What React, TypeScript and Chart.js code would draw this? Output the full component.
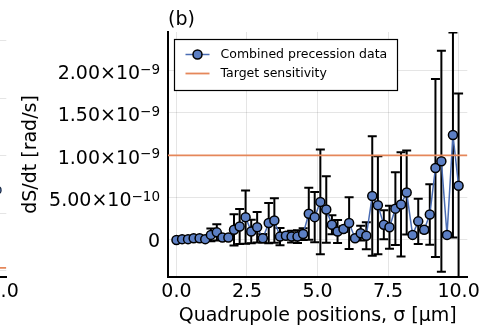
import React, { useEffect, useRef } from "react";
import { Chart, registerables } from "chart.js";

Chart.register(...registerables);

const FONT = "'DejaVu Sans', sans-serif";

// ---------- panel (b) data ----------
// Quadrupole positions σ [μm]
const positions = [
  0.0, 0.2, 0.41, 0.61, 0.82, 1.02, 1.22, 1.43, 1.63, 1.84,
  2.04, 2.24, 2.45, 2.65, 2.86, 3.06, 3.27, 3.47, 3.67, 3.88,
  4.08, 4.29, 4.49, 4.69, 4.9, 5.1, 5.31, 5.51, 5.71, 5.92,
  6.12, 6.33, 6.53, 6.73, 6.94, 7.14, 7.35, 7.55, 7.76, 7.96,
  8.16, 8.37, 8.57, 8.78, 8.98, 9.18, 9.39, 9.59, 9.8, 10.0,
];

// Combined precession data, dS/dt in units of 1e-10 rad/s
const dSdt = [
  0.0, 0.1, 0.1, 0.2, 0.2, 0.1, 0.6, 0.9, 0.3, 0.3,
  1.2, 1.6, 2.7, 1.0, 1.5, 0.2, 2.0, 2.3, 0.4, 0.5,
  0.4, 0.4, 0.7, 3.1, 2.7, 4.5, 3.6, 1.8, 1.0, 1.3,
  2.0, 0.2, 0.8, 0.5, 5.2, 4.1, 1.8, 1.5, 3.7, 4.2,
  5.6, 0.6, 2.2, 1.2, 3.0, 8.5, 9.3, 0.6, 12.4, 6.4,
];

// symmetric 1σ errors, units of 1e-10 rad/s
const dSdtErr = [
  0.05, 0.08, 0.08, 0.1, 0.1, 0.1, 0.75, 0.97, 0.2, 0.2,
  1.85, 2.06, 3.15, 1.39, 1.8, 0.5, 2.38, 2.62, 1.03, 0.36,
  0.7, 0.75, 0.7, 3.06, 2.98, 6.19, 3.93, 1.11, 1.35, 0.32,
  3.06, 0.2, 0.87, 1.59, 7.06, 5.79, 1.71, 2.54, 4.29, 6.15,
  4.96, 0.25, 2.66, 0.32, 3.57, 10.5, 13.05, 0.25, 12.1, 10.9,
];

const UNIT = 1e-10;
const targetSensitivity = 1e-9;

const xRange = [-0.3, 10.31];
const yRange = [-0.437e-9, 2.456e-9];

const xTicks = [0, 2.5, 5, 7.5, 10];
const xTickLabels = ["0.0", "2.5", "5.0", "7.5", "10.0"];
const yTicks = [0, 5e-10, 1e-9, 1.5e-9, 2e-9];
const yTickMantissas = ["0", "5.00×10", "1.00×10", "1.50×10", "2.00×10"];
const yTickExponents = ["", "−10", "−9", "−9", "−9"];

const seriesLabels = ["Combined precession data", "Target sensitivity"];
const panelTitle = "(b)";
const xTitle = "Quadrupole positions, σ [μm]";
const yTitle = "dS/dt [rad/s]";

// ---------- panel (a): only its right edge is visible ----------
const panelAPositions = [9.8, 10.0];
const panelAValues = [2.25, 1.4];
const panelATarget = 0.05;
const panelAYRange = [-0.11, 4.15];
const panelAYTicks = [0, 1, 2, 3, 4];

const BLUE_LINE = "#4a6cb3";
const BLUE_FILL = "#5c7fc4";
const ORANGE = "#e5875a";

const errorBarPlugin = {
  id: "errorBars",
  beforeDatasetsDraw(chart: any) {
    const { ctx, chartArea, scales } = chart;
    ctx.save();
    ctx.beginPath();
    ctx.rect(chartArea.left, chartArea.top, chartArea.right - chartArea.left, chartArea.bottom - chartArea.top);
    ctx.clip();
    ctx.strokeStyle = "#000";
    ctx.lineWidth = 2;
    positions.forEach((x, i) => {
      const px = scales.x.getPixelForValue(x);
      const hi = scales.y.getPixelForValue((dSdt[i] + dSdtErr[i]) * UNIT);
      const lo = scales.y.getPixelForValue((dSdt[i] - dSdtErr[i]) * UNIT);
      ctx.beginPath();
      ctx.moveTo(px, hi);
      ctx.lineTo(px, lo);
      ctx.moveTo(px - 4.5, hi);
      ctx.lineTo(px + 4.5, hi);
      ctx.moveTo(px - 4.5, lo);
      ctx.lineTo(px + 4.5, lo);
      ctx.stroke();
    });
    ctx.restore();
  },
};

const decorPlugin = {
  id: "decor",
  afterDraw(chart: any) {
    const { ctx, scales, chartArea } = chart;
    ctx.save();
    // y tick labels with superscript exponents
    const rightEdge = chartArea.left - 8;
    yTicks.forEach((v, i) => {
      const py = scales.y.getPixelForValue(v);
      const mant = yTickMantissas[i];
      const exp = yTickExponents[i];
      ctx.fillStyle = "#000";
      ctx.textBaseline = "alphabetic";
      ctx.textAlign = "left";
      ctx.font = `19px ${FONT}`;
      const mw = ctx.measureText(mant).width;
      ctx.font = `13.5px ${FONT}`;
      const ew = exp ? ctx.measureText(exp).width : 0;
      const base = py + (exp ? 8.4 : 6.9);
      ctx.font = `19px ${FONT}`;
      ctx.fillText(mant, rightEdge - mw - ew, base);
      if (exp) {
        ctx.font = `13.5px ${FONT}`;
        ctx.fillText(exp, rightEdge - ew, base - 5.5);
      }
    });

    // panel title
    ctx.font = `19px ${FONT}`;
    ctx.fillStyle = "#000";
    ctx.textAlign = "left";
    ctx.textBaseline = "alphabetic";
    ctx.fillText(panelTitle, chartArea.left, 24.5);

    // legend
    const bx = chartArea.left + 6.5;
    const by = 39.5;
    ctx.fillStyle = "#fff";
    ctx.fillRect(bx, by, 223, 51);
    ctx.strokeStyle = "#000";
    ctx.lineWidth = 1.2;
    ctx.strokeRect(bx, by, 223, 51);
    const rows = [54.5, 73.5];
    const colors = [BLUE_LINE, ORANGE];
    rows.forEach((ry, i) => {
      ctx.strokeStyle = colors[i];
      ctx.lineWidth = i === 0 ? 1.5 : 1.8;
      ctx.beginPath();
      ctx.moveTo(bx + 11, ry);
      ctx.lineTo(bx + 35, ry);
      ctx.stroke();
      if (i === 0) {
        ctx.beginPath();
        ctx.arc(bx + 23, ry, 4.5, 0, Math.PI * 2);
        ctx.fillStyle = BLUE_FILL;
        ctx.fill();
        ctx.strokeStyle = "#000";
        ctx.lineWidth = 1.5;
        ctx.stroke();
      }
      ctx.fillStyle = "#000";
      ctx.font = `12.5px ${FONT}`;
      ctx.textBaseline = "middle";
      ctx.fillText(seriesLabels[i], bx + 46, ry);
    });
    ctx.restore();
  },
};

function xScale() {
  return {
    type: "linear",
    min: xRange[0],
    max: xRange[1],
    afterFit: (s: any) => {
      s.height = 54;
    },
    afterBuildTicks: (s: any) => {
      s.ticks = xTicks.map((v) => ({ value: v }));
    },
    ticks: {
      autoSkip: false,
      maxRotation: 0,
      padding: 4,
      color: "#000",
      font: { family: FONT, size: 19 },
      callback: (v: any) => {
        const idx = xTicks.indexOf(Number(v));
        return idx >= 0 ? xTickLabels[idx] : "";
      },
    },
    grid: { color: "rgba(0,0,0,0.1)", lineWidth: 1, drawTicks: false },
    border: { display: true, color: "#000", width: 2 },
    title: {
      display: true,
      text: xTitle,
      color: "#000",
      font: { family: FONT, size: 19 },
      padding: { top: 0, bottom: 3.6 },
    },
  };
}

function yScale(range: number[], ticks: number[]) {
  return {
    type: "linear",
    min: range[0],
    max: range[1],
    afterFit: (s: any) => {
      s.width = 168;
    },
    afterBuildTicks: (s: any) => {
      s.ticks = ticks.map((v) => ({ value: v }));
    },
    ticks: { display: false },
    grid: { color: "rgba(0,0,0,0.1)", lineWidth: 1, drawTicks: false },
    border: { display: true, color: "#000", width: 2 },
    title: {
      display: true,
      text: yTitle,
      color: "#000",
      font: { family: FONT, size: 19 },
      padding: { top: 19.6, bottom: 0 },
    },
  };
}

const baseOptions = (yRangeArg: number[], yTicksArg: number[]) => ({
  responsive: false,
  animation: false,
  events: [],
  layout: { padding: { top: 32, right: 9, left: 0, bottom: 0 } },
  plugins: {
    legend: { display: false },
    tooltip: { enabled: false },
    title: { display: false },
  },
  scales: { x: xScale(), y: yScale(yRangeArg, yTicksArg) },
});

export default function App() {
  const refB = useRef<HTMLCanvasElement>(null);
  const refA = useRef<HTMLCanvasElement>(null);
  useEffect(() => {
    if (!refB.current || !refA.current) return;
    const chartB = new Chart(refB.current, {
      type: "line",
      data: {
        datasets: [
          {
            label: seriesLabels[0],
            data: positions.map((x, i) => ({ x, y: dSdt[i] * UNIT })),
            borderColor: BLUE_LINE,
            borderWidth: 1.5,
            pointRadius: 4.5,
            pointBackgroundColor: BLUE_FILL,
            pointBorderColor: "#000",
            pointBorderWidth: 1.5,
            tension: 0,
            order: 1,
          },
          {
            label: seriesLabels[1],
            data: [
              { x: xRange[0], y: targetSensitivity },
              { x: xRange[1], y: targetSensitivity },
            ],
            borderColor: ORANGE,
            borderWidth: 1.8,
            pointRadius: 0,
            order: 0,
          },
        ],
      },
      options: baseOptions(yRange, yTicks) as any,
      plugins: [errorBarPlugin, decorPlugin],
    });
    const chartA = new Chart(refA.current, {
      type: "line",
      data: {
        datasets: [
          {
            label: seriesLabels[0],
            data: panelAPositions.map((x, i) => ({ x, y: panelAValues[i] })),
            borderColor: BLUE_LINE,
            borderWidth: 1.5,
            pointRadius: 3.5,
            pointBackgroundColor: BLUE_FILL,
            pointBorderColor: "#1a2a44",
            pointBorderWidth: 1.2,
            showLine: false,
            order: 1,
          },
          {
            label: seriesLabels[1],
            data: [
              { x: xRange[0], y: panelATarget },
              { x: xRange[1], y: panelATarget },
            ],
            borderColor: ORANGE,
            borderWidth: 1.8,
            pointRadius: 0,
            order: 0,
          },
        ],
      },
      options: baseOptions(panelAYRange, panelAYTicks) as any,
    });
    return () => {
      chartB.destroy();
      chartA.destroy();
    };
  }, []);
  return (
    <div style={{ position: "fixed", left: 0, top: 0, width: 484, height: 331, background: "#fff", overflow: "hidden" }}>
      <canvas
        ref={refA}
        width={484}
        height={331}
        style={{ position: "absolute", left: -461, top: 0, width: 484, height: 331, display: "block" }}
      />
      <canvas
        ref={refB}
        width={484}
        height={331}
        style={{ position: "absolute", left: 0, top: 0, width: 484, height: 331, display: "block", background: "transparent" }}
      />
    </div>
  );
}
